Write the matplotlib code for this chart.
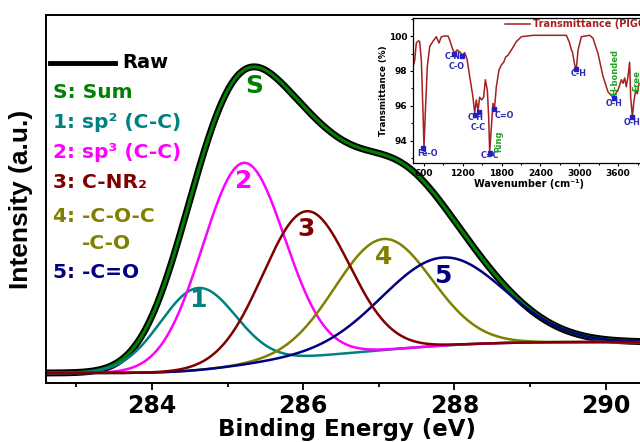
import numpy as np
import matplotlib.pyplot as plt
from matplotlib.ticker import MultipleLocator

plt.rcParams['font.family'] = ['DejaVu Sans']
plt.rcParams['font.weight'] = 'bold'
plt.rcParams['axes.labelweight'] = 'bold'

# C1s XPS fit (peak parameters)
be_range = (282.6, 290.56)
centers = [284.61, 285.21, 286.04, 287.06, 287.85]
heights = [82, 202, 146, 111, 88]
fwhm = [1.18, 1.28, 1.34, 1.50, 1.90]
bg_left = 10
bg_right = 41
peak_names = ['1', '2', '3', '4', '5']
comp_colors = ['#008080', '#ff00ff', '#800000', '#808000', '#000080']
legend_labels = ['S: Sum', '1: sp² (C-C)', '2: sp³ (C-C)', '3: C-NR₂', '4: -C-O-C', '5: -C=O']
legend_colors = ['#008000'] + comp_colors

# FTIR inset
wn = [430, 456, 481, 518, 533, 559, 585, 600, 620, 651, 688, 739, 790, 832, 868, 919, 971,
      997, 1038, 1074, 1110, 1151, 1192, 1229, 1264, 1306, 1357, 1383, 1409, 1435, 1460, 1491,
      1522, 1548, 1579, 1599, 1615, 1641, 1666, 1687, 1718, 1759, 1795, 1831, 1862, 1898, 1950,
      2027, 2104, 2285, 2800, 2851, 2877, 2893, 2929, 2955, 2981, 3032, 3160, 3212, 3289, 3366,
      3444, 3521, 3598, 3650, 3676, 3701, 3727, 3753, 3778, 3794, 3820, 3845, 3871, 3897, 3923]
trans = [98.25, 98.6, 99.6, 99.73, 99.68, 98.6, 95.6, 93.6, 95.6, 98.25, 99.4, 99.7, 99.96,
         99.6, 99.96, 100.0, 100.0, 99.77, 99.3, 99.0, 99.2, 99.1, 98.9, 99.05, 98.7, 97.7,
         96.5, 95.6, 96.35, 95.7, 96.5, 96.35, 96.5, 97.5, 96.9, 95.4, 93.35, 94.8, 96.15, 95.77,
         97.1, 98.06, 98.34, 98.5, 98.8, 98.9, 99.2, 99.68, 99.96, 100.04, 100.04, 99.6, 99.2,
         99.1, 98.34, 98.15, 99.2, 99.96, 100.04, 99.87, 99.0, 97.7, 96.8, 96.5, 96.9, 97.5,
         97.3, 97.6, 97.1, 97.7, 98.5, 96.5, 95.4, 96.3, 96.9, 96.7, 97.3]
band_wn = [585, 1064, 1187, 1383, 1445, 1615, 1687, 2955, 3532, 3820]
band_t = [93.6, 99.0, 98.86, 95.5, 95.65, 93.33, 95.8, 98.13, 96.48, 95.35]
band_labels = ['Fe-O', 'C-N', 'C-O', 'C-H', 'C-C', 'C=C', 'C=O', 'C-H', 'O-H', 'O-H']

fig = plt.figure(figsize=(6.4, 4.42), dpi=100)
ax = fig.add_axes([46/640, 59/442, 602/640, 368/442])

x = np.linspace(be_range[0], be_range[1], 800)
comps = [h*np.exp(-4*np.log(2)*(x - c)**2/w**2) for c, h, w in zip(centers, heights, fwhm)]
total = np.sum(comps, axis=0)
frac = np.cumsum(total)/np.sum(total)
bg = bg_left + (bg_right - bg_left)*frac  # shirley type background
fit = bg + total

ax.plot(x, fit, color='black', lw=5)
ax.plot(x, fit, color='#008000', lw=2.2)
for i in [0, 1, 3, 4, 2]:
    ax.plot(x, bg + comps[i], color=comp_colors[i], lw=1.8)

# peak numbers
for i in range(5):
    k = np.argmin(abs(x - centers[i]))
    off = -8.5 if i == 0 else -13
    ax.annotate(peak_names[i], xy=(x[k], bg[k] + heights[i]), xytext=(0, off),
                textcoords='offset points', ha='center', va='center',
                fontsize=18, color=comp_colors[i])
k = np.argmax(fit)
ax.annotate('S', xy=(x[k], fit[k]), xytext=(0, -14), textcoords='offset points',
            ha='center', va='center', fontsize=18, color='#008000')

ax.set_xlim(be_range)
ax.set_ylim(0, 368)
ax.set_yticks([])
ax.xaxis.set_major_locator(MultipleLocator(2))
ax.xaxis.set_minor_locator(MultipleLocator(1))
ax.tick_params(axis='x', which='major', length=5, width=1.3, labelsize=17, pad=3)
ax.tick_params(axis='x', which='minor', length=3, width=1.3)
for s in ax.spines.values():
    s.set_linewidth(1.4)
ax.set_xlabel('Binding Energy (eV)', fontsize=16.5, labelpad=0)
ax.set_ylabel('Intensity (a.u.)', fontsize=19, family='Liberation Sans', labelpad=9)

# legend drawn by hand
fig.add_artist(plt.Line2D([50/640, 115/640], [1 - 63/442]*2, color='black', lw=3.5))
fig.text(122/640, 1 - 63/442, 'Raw', fontsize=14, va='center', color='black')
leg_y = [92, 122, 153, 183, 217, 272]
for lab, col, yy in zip(legend_labels, legend_colors, leg_y):
    fig.text(53/640, 1 - yy/442, lab, fontsize=14.5, va='center', color=col)
fig.text(82/640, 1 - 243/442, '-C-O', fontsize=14.5, va='center', color='#808000')

# inset FTIR
ax2 = fig.add_axes([413/640, 279/442, 231/640, 145/442])
ax2.plot(wn, trans, color='#a52020', lw=1.1)
ax2.plot(band_wn, band_t, 's', ms=2.2, color='#2020c8')
offs = [(3, -4), (-1, -2.3), (-4, -7.8), (1, -2.3), (0, -10.8), (0, -2), (7, -4), (1.5, -3.5),
        (0, -4), (0, -4)]
for w, t, lab, o in zip(band_wn, band_t, band_labels, offs):
    ax2.annotate(lab, xy=(w, t), xytext=o, textcoords='offset points', ha='center',
                 va='center', fontsize=5.8, color='#2828b4')
ax2.annotate('Ring', xy=(band_wn[5], band_t[5]), xytext=(6.5, 8), textcoords='offset points',
             ha='center', va='center', rotation=90, fontsize=6, color='#22a022')
ax2.annotate('H-bonded', xy=(band_wn[8], band_t[8]), xytext=(0.7, 18.5), textcoords='offset points',
             ha='center', va='center', rotation=90, fontsize=6, color='#22a022')
ax2.annotate('Free', xy=(band_wn[9], band_t[9]), xytext=(3.2, 26.5), textcoords='offset points',
             ha='center', va='center', rotation=90, fontsize=6, color='#22a022')
ax2.plot([], [], color='#a52020', lw=1.1, label='Transmittance (PIGO)')
leg = ax2.legend(loc='upper left', bbox_to_anchor=(0.38, 1.02), frameon=False, fontsize=7,
                 handlelength=2.6, handletextpad=0.3, borderaxespad=0)
for t in leg.get_texts():
    t.set_color('#a52020')
ax2.set_xlim(430, 4000)
ax2.set_ylim(92.74, 101.03)
ax2.xaxis.set_major_locator(MultipleLocator(600))
ax2.xaxis.set_minor_locator(MultipleLocator(300))
ax2.yaxis.set_major_locator(MultipleLocator(2))
ax2.yaxis.set_minor_locator(MultipleLocator(1))
ax2.tick_params(which='major', length=2.5, width=0.8, labelsize=6.5, pad=1.5)
ax2.tick_params(which='minor', length=1.5, width=0.8)
for s in ax2.spines.values():
    s.set_linewidth(0.9)
ax2.set_xlabel('Wavenumber (cm⁻¹)', fontsize=7, labelpad=1)
ax2.set_ylabel('Transmittance (%)', fontsize=6.3, labelpad=1)

fig.savefig('out.png', dpi=100)
